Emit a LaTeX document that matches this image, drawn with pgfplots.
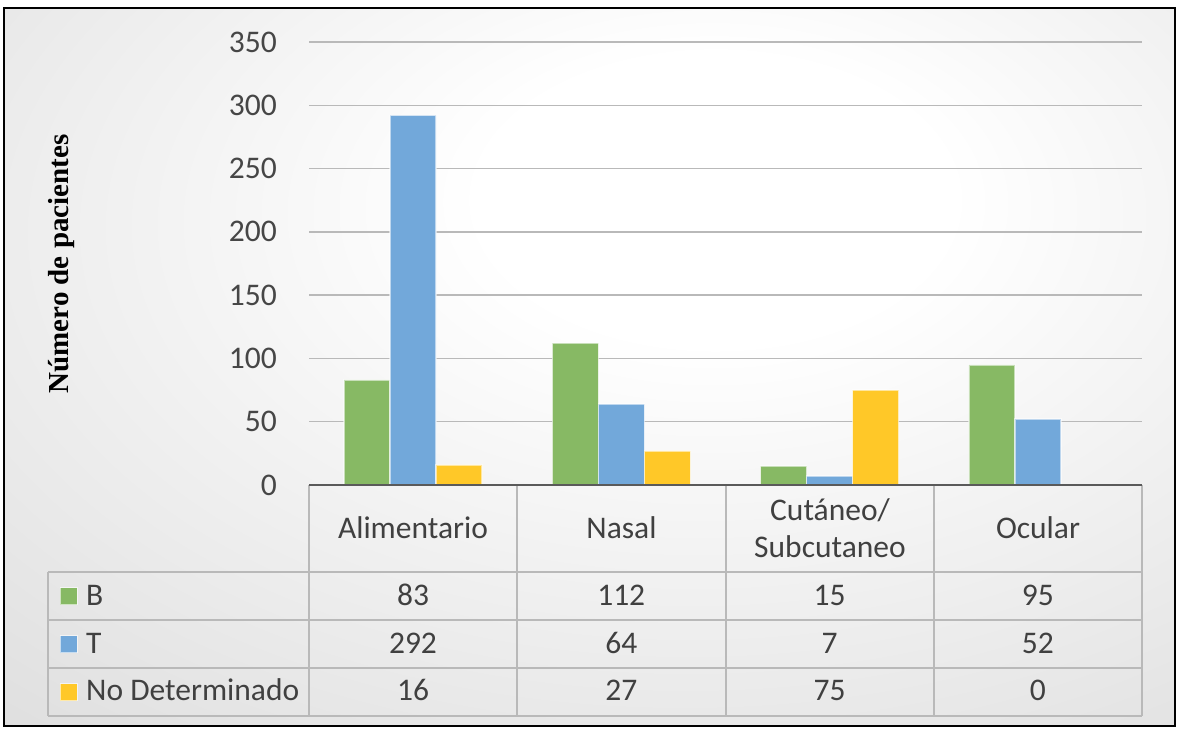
\documentclass[border=0pt]{standalone}
\usepackage{pgfplots}
\pgfplotsset{compat=1.18}
\usepackage{fontspec}
\setmainfont{Carlito}
\newfontfamily\labelfont{Liberation Serif}
\definecolor{cB}{RGB}{135,185,100}
\definecolor{cT}{RGB}{114,168,218}
\definecolor{cN}{RGB}{255,200,40}
\definecolor{txt}{RGB}{64,64,64}
\definecolor{ticktxt}{RGB}{70,70,70}
\definecolor{gridc}{RGB}{185,185,185}
\definecolor{tline}{RGB}{185,185,185}
\definecolor{axc}{RGB}{90,90,90}
\pgfdeclareradialshading{bgshade}{\pgfpoint{6bp}{13bp}}{color(0bp)=(white);color(10bp)=(white);color(42bp)=(black!12);color(60bp)=(black!20);color(80bp)=(black!22);color(100bp)=(black!23)}
\begin{document}
\begin{tikzpicture}[font=\fontsize{31.5bp}{37.8bp}\selectfont]
\useasboundingbox (0bp,0bp) rectangle (1197bp,-729bp);
\shade[shading=bgshade] (4bp,-8bp) rectangle (1175bp,-726bp);
\draw[line width=2.5bp] (4bp,-8bp) rectangle (1175bp,-726bp);
\begin{axis}[
  at={(309bp,-485bp)}, anchor=south west,
  scale only axis, width=833bp, height=443bp,
  xmin=0, xmax=4, ymin=0, ymax=350,
  ytick={0,50,...,350}, xtick=\empty,
  axis x line*=bottom, axis y line*=left,
  x axis line style={draw=none}, y axis line style={draw=none},
  ymajorgrids, grid style={gridc, line width=1.3bp},
  major tick length=0pt,
  /pgf/number format/assume math mode=true,
  yticklabel style={text=ticktxt, inner sep=0pt, xshift=-32bp},
  ybar=0pt, bar width=46bp,
  every axis plot/.append style={draw=white, draw opacity=0.55, line width=1.5bp},
  clip=false,
]
\addplot[fill=cB] coordinates {(0.5,83) (1.5,112) (2.5,15) (3.5,95)};
\addplot[fill=cT] coordinates {(0.5,292) (1.5,64) (2.5,7) (3.5,52)};
\addplot[fill=cN] coordinates {(0.5,16) (1.5,27) (2.5,75) (3.5,0)};
\end{axis}
% data table
\begin{scope}[tline, line width=2bp]
\foreach \x in {309,517,726,934,1142} \draw (\x bp,-485bp) -- (\x bp,-716bp);
\draw (48bp,-572bp) -- (48bp,-716bp);
\foreach \y in {572,620,668,716} \draw (48bp,-\y bp) -- (1142bp,-\y bp);
\end{scope}
\draw[axc, line width=2.2bp] (309bp,-485bp) -- (1142bp,-485bp);
\begin{scope}[every node/.style={text=txt, inner sep=0pt, anchor=base}]
\node at (413bp,-538bp) {Alimentario};
\node at (621.5bp,-538bp) {Nasal};
\node at (830bp,-520bp) {Cutáneo/};
\node at (830bp,-557bp) {Subcutaneo};
\node at (1038bp,-538bp) {Ocular};
\foreach \v [count=\i from 0] in {83,112,15,95} \node at ({(413+208.25*\i)*1bp},-605bp) {\v};
\foreach \v [count=\i from 0] in {292,64,7,52} \node at ({(413+208.25*\i)*1bp},-653bp) {\v};
\foreach \v [count=\i from 0] in {16,27,75,0} \node at ({(413+208.25*\i)*1bp},-700bp) {\v};
\node[anchor=base west] at (86bp,-605bp) {B};
\node[anchor=base west] at (86bp,-653bp) {T};
\node[anchor=base west] at (86bp,-700bp) {No Determinado};
\end{scope}
\foreach \c/\y in {cB/596,cT/644,cN/692}
  \fill[\c, draw=white, draw opacity=0.6, line width=1bp] (60bp,{(-\y+8.5)*1bp}) rectangle (77bp,{(-\y-8.5)*1bp});
\node[rotate=90, font=\labelfont\bfseries\fontsize{29bp}{35bp}\selectfont, text=black] at (62bp,-264bp) {Número de pacientes};
\end{tikzpicture}
\end{document}
